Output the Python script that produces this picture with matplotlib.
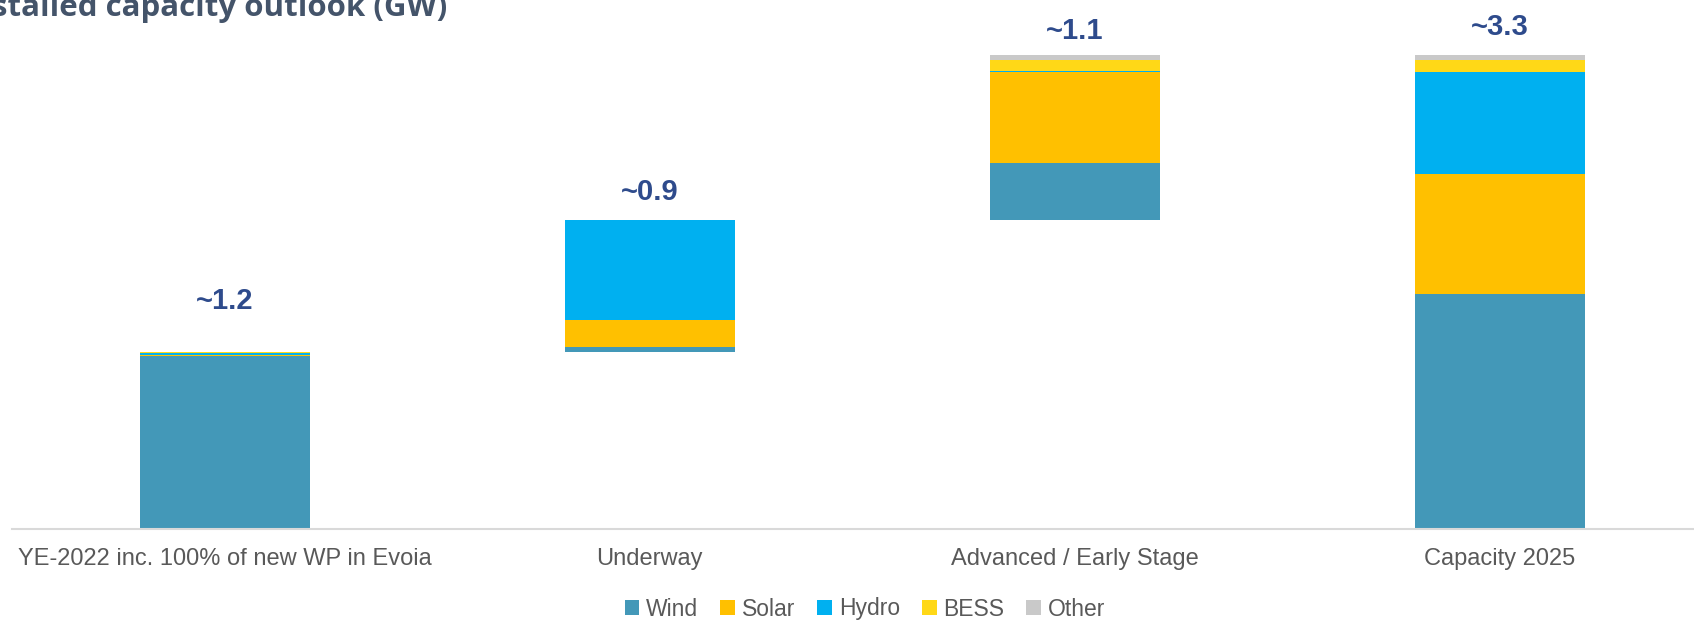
import numpy as np
import matplotlib.pyplot as plt

# 数据 (GW)
categories = ["YE-2022 inc. 100% of new WP in Evoia", "Underway",
              "Advanced / Early Stage", "Capacity 2025"]
wind = [1.20, 0.035, 0.40, 1.635]
solar = [0.007, 0.19, 0.63, 0.83]
hydro = [0.014, 0.69, 0.007, 0.71]
bess = [0.007, 0.0, 0.076, 0.083]
other = [0.0, 0.0, 0.035, 0.035]
totals_txt = ["~1.2", "~0.9", "~1.1", "~3.3"]

series = [("Wind", wind, "#4398B8"),
          ("Solar", solar, "#FFC000"),
          ("Hydro", hydro, "#00B0F0"),
          ("BESS", bess, "#FFD817"),
          ("Other", other, "#C9C9C9")]

plt.rcParams['font.family'] = ['Liberation Sans', 'DejaVu Sans']

W, H = 1694, 621
fig = plt.figure(figsize=(W / 100, H / 100), dpi=100)
px = 144.0  # 每 GW 像素
ax = fig.add_axes([12 / W, (H - 529) / H, (W - 12) / W, 3.6 * px / H])

x = np.arange(len(categories))
stack = np.vstack([s[1] for s in series])
totals = stack.sum(axis=0)
# 瀑布图: 中间两根柱子悬空
start = np.zeros(len(categories))
start[1] = totals[0]
start[2] = totals[0] + totals[1]

bottom = start.copy()
for name, vals, color in series:
    ax.bar(x, vals, 0.4, bottom=bottom, color=color, label=name,
           edgecolor="none")
    bottom = bottom + np.array(vals)

# 数值标签
offsets = [31, 14.5, 11.5, 14.5]
for i in range(len(categories)):
    ax.annotate(totals_txt[i], (x[i], start[i] + totals[i]),
                xytext=(0, offsets[i]), textcoords="offset points",
                ha="center", va="baseline", fontsize=21, fontweight="bold",
                color="#2E4B8C", annotation_clip=False)

ax.set_xlim(-0.5, -0.5 + (W - 12) / 425)
ax.set_ylim(0, 3.6)
ax.set_xticks(x)
ax.set_xticklabels(categories, fontsize=17, color="#595959")
ax.tick_params(axis="x", length=0, pad=14)
ax.set_yticks([])
for s in ["top", "right", "left"]:
    ax.spines[s].set_visible(False)
ax.spines["bottom"].set_color("#D9D9D9")
ax.spines["bottom"].set_linewidth(1.5)

fig.legend(loc="center", bbox_to_anchor=(865 / W, 12 / H), ncol=5,
           frameon=False, fontsize=16.5, labelcolor="#595959",
           handlelength=0.65, handleheight=0.65, handletextpad=0.3,
           columnspacing=0.95, borderaxespad=0)

# 标题 (参考图中左侧被裁掉)
fig.text(447 / W, (H - 16) / H, "Installed capacity outlook (GW)",
         ha="right", va="baseline", fontsize=22.5, fontweight="bold",
         color="#44546A", family=["Open Sans", "DejaVu Sans"])

fig.savefig("out.png", dpi=100)
